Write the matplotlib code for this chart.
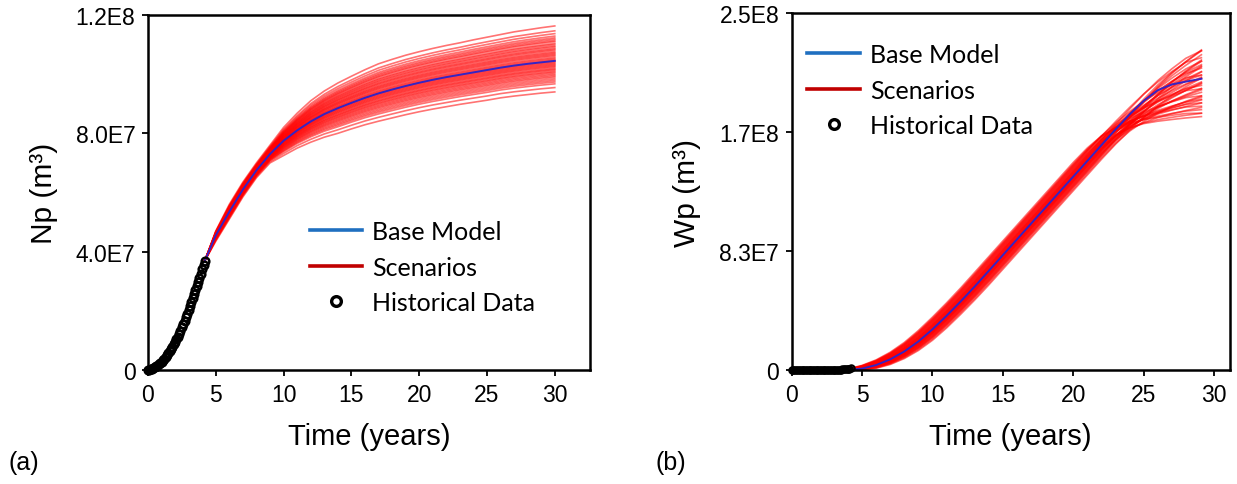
import matplotlib
matplotlib.use("Agg")
import matplotlib.pyplot as plt
import numpy as np
from matplotlib.lines import Line2D

plt.rcParams['font.family'] = ['Liberation Sans', 'DejaVu Sans']

# ---- historical data (both panels) ----
hist_t = [0.0, 0.1, 0.2, 0.3, 0.4, 0.5, 0.6, 0.7, 0.8, 0.9, 1.0, 1.1, 1.2, 1.3, 1.4,
          1.5, 1.6, 1.7, 1.8, 1.9, 2.0, 2.1, 2.2, 2.3, 2.4, 2.5, 2.6, 2.7, 2.8, 2.9,
          3.0, 3.1, 3.2, 3.3, 3.4, 3.5, 3.6, 3.7, 3.8, 3.9, 4.0, 4.1, 4.2]
hist_np = [0, 0.01, 0.02, 0.04, 0.06, 0.09, 0.12, 0.15, 0.19, 0.23, 0.28, 0.33, 0.38,
           0.44, 0.50, 0.57, 0.64, 0.71, 0.79, 0.87, 0.95, 1.04, 1.13, 1.23, 1.33, 1.44,
           1.55, 1.66, 1.78, 1.90, 2.03, 2.16, 2.29, 2.42, 2.56, 2.70, 2.84, 2.98, 3.12,
           3.26, 3.40, 3.54, 3.68]  # x1e7
hist_wp = [0, 0, 0, 0, 0, 0, 0, 0, 0, 0, 0, 0, 0, 0, 0, 0, 0.005, 0.005, 0.005, 0.005,
           0.005, 0.005, 0.005, 0.005, 0.005, 0.005, 0.01, 0.01, 0.01, 0.01, 0.01, 0.015,
           0.02, 0.025, 0.03, 0.035, 0.045, 0.055, 0.065, 0.075, 0.09, 0.10, 0.12]  # x1e7

# ---- (a) cumulative oil, Np (x1e7) ----
t_a = [4.2, 5, 6, 7, 8, 9, 10, 11, 12, 13, 14, 15, 16, 17, 18, 19, 20, 21, 22, 23, 24,
       25, 26, 27, 28, 29, 30]
base_np = [3.7, 4.55, 5.35, 6.1, 6.75, 7.3, 7.75, 8.1, 8.4, 8.65, 8.85, 9.03, 9.2, 9.35,
           9.48, 9.6, 9.71, 9.81, 9.9, 9.98, 10.06, 10.14, 10.22, 10.29, 10.35, 10.4, 10.45]
up_np = [0, 0.15, 0.25, 0.25, 0.25, 0.3, 0.45, 0.58, 0.7, 0.78, 0.85, 0.9, 0.95, 1.0,
         1.02, 1.04, 1.05, 1.06, 1.07, 1.08, 1.1, 1.11, 1.12, 1.14, 1.15, 1.17, 1.18]
low_np = [0, 0.2, 0.25, 0.25, 0.25, 0.3, 0.5, 0.6, 0.7, 0.78, 0.85, 0.88, 0.91, 0.94,
          0.96, 0.97, 0.98, 0.99, 1.0, 1.0, 1.01, 1.02, 1.02, 1.03, 1.04, 1.04, 1.05]
# where each scenario sits inside the band (+1 upper edge, -1 lower edge)
scen_np = [1.0, 0.86, 0.78, 0.71, 0.66, 0.62, 0.58, 0.55, 0.5, 0.47, 0.43, 0.4, 0.36,
           0.33, 0.3, 0.26, 0.23, 0.2, 0.17, 0.14, 0.1, 0.07, 0.04, 0.01, -0.02, -0.05,
           -0.08, -0.11, -0.14, -0.17, -0.2, -0.24, -0.27, -0.3, -0.34, -0.37, -0.41,
           -0.45, -0.49, -0.53, -0.58, -0.63, -0.68, -0.74, -0.86, -1.0]

# ---- (b) cumulative water, Wp (x1e7) ----
t_b = [4.2, 5, 6, 7, 8, 9, 10, 11, 12, 13, 14, 15, 16, 17, 18, 19, 20, 21, 22, 23, 24,
       25, 26, 27, 28, 29.1]
base_wp = [0.03, 0.1, 0.35, 0.75, 1.3, 2.0, 2.85, 3.8, 4.8, 5.85, 6.95, 8.05, 9.15,
           10.25, 11.35, 12.45, 13.55, 14.65, 15.75, 16.85, 17.9, 18.85, 19.6, 20.0,
           20.2, 20.4]
low_wp = [0.03, 0.1, 0.35, 0.75, 1.3, 2.0, 2.85, 3.8, 4.8, 5.85, 6.95, 8.05, 9.15,
          10.25, 11.35, 12.45, 13.55, 14.65, 15.65, 16.45, 16.95, 17.25, 17.42, 17.54,
          17.65, 17.75]
high_wp = [0.03, 0.1, 0.35, 0.75, 1.3, 2.0, 2.85, 3.8, 4.8, 5.85, 6.95, 8.05, 9.15,
           10.25, 11.35, 12.45, 13.55, 14.65, 15.75, 16.85, 17.95, 19.05, 20.1, 21.0,
           21.8, 22.6]
shift_wp = [-0.9, -0.8, -0.7, -0.65, -0.6, -0.5, -0.45, -0.4, -0.35, -0.3, -0.25, -0.2,
            -0.15, -0.1, -0.05, 0.0, 0.05, 0.1, 0.15, 0.2, 0.25, 0.3, 0.35, 0.4, 0.45,
            0.5, 0.55, 0.6, 0.7, 0.8, 0.9, -0.55, -0.15, 0.1, 0.3, 0.65, -0.75, 0.0,
            0.2, -0.3]
mix_wp = [0.05, 0.15, 0.6, 0.3, 0.85, 0.45, 0.1, 0.7, 0.95, 0.25, 0.55, 0.8, 0.35, 0.65,
          0.0, 0.5, 0.9, 0.2, 0.75, 0.4, 1.0, 0.6, 0.3, 0.85, 0.15, 0.7, 0.45, 0.9, 0.55,
          0.35, 0.65, 0.2, 0.75, 0.05, 0.5, 0.8, 0.4, 0.95, 0.25, 0.6]

np_ticks = [0, 4e7, 8e7, 1.2e8]
np_labels = ['0', '4.0E7', '8.0E7', '1.2E8']
wp_ticks = [0, 2.5e8 / 3, 2 * 2.5e8 / 3, 2.5e8]
wp_labels = ['0', '8.3E7', '1.7E8', '2.5E8']

RED = '#ff0000'
BLUE_LINE = '#3424c4'
legend_handles = [
    Line2D([], [], color='#1f6fc0', lw=2.6, label='Base Model'),
    Line2D([], [], color='#c00000', lw=2.6, label='Scenarios'),
    Line2D([], [], ls='none', marker='o', mfc='white', mec='black', ms=7, mew=2.4,
           label='Historical Data'),
]

fig = plt.figure(figsize=(12.37, 4.85), dpi=100)
ax1 = fig.add_axes([0.1196, 0.235, 0.3574, 0.732])
ax2 = fig.add_axes([0.640, 0.235, 0.354, 0.736])

# panel a
ta = np.array(t_a)
for f in scen_np:
    dev = np.array(up_np) if f > 0 else np.array(low_np)
    ax1.plot(ta, (np.array(base_np) + f * dev) * 1e7, color=RED, lw=1.2, alpha=0.55)
ax1.plot(ta, np.array(base_np) * 1e7, color=BLUE_LINE, lw=1.4)
ax1.plot(hist_t, np.array(hist_np) * 1e7, ls='none', marker='o', mfc='none',
         mec='black', ms=5.5, mew=1.8, clip_on=False, zorder=5)

# panel b
tb = np.array(t_b)
for s, m in zip(shift_wp, mix_wp):
    lo = np.interp(tb - s, tb, low_wp)
    hi = np.interp(tb - s, tb, high_wp)
    ax2.plot(tb, ((1 - m) * lo + m * hi) * 1e7, color=RED, lw=1.2, alpha=0.55)
ax2.plot(tb, np.array(base_wp) * 1e7, color=BLUE_LINE, lw=1.4)
ax2.plot(hist_t, np.array(hist_wp) * 1e7, ls='none', marker='o', mfc='none',
         mec='black', ms=4.5, mew=1.6, clip_on=False, zorder=5)

for ax, xmax, ymax, yt, yl, ylab, leg_xy in [
        (ax1, 32.6, 1.2e8, np_ticks, np_labels, 'Np (m³)', (0.366, 0.4225)),
        (ax2, 31.1, 2.5e8, wp_ticks, wp_labels, 'Wp (m³)', (0.036, 0.916))]:
    ax.set_xlim(0, xmax)
    ax.set_ylim(0, ymax)
    ax.set_xticks([0, 5, 10, 15, 20, 25, 30])
    ax.set_yticks(yt)
    ax.set_yticklabels(yl)
    ax.tick_params(direction='out', length=4, width=1.3, labelsize=16.5, pad=5)
    for sp in ax.spines.values():
        sp.set_linewidth(1.8)
    ax.set_xlabel('Time (years)', fontsize=21, labelpad=12)
    ax.set_ylabel(ylab, fontsize=21.5, labelpad=13)
    ax.legend(handles=legend_handles, loc='upper left', bbox_to_anchor=leg_xy,
              frameon=False, borderpad=0, borderaxespad=0, handlelength=2.1,
              handletextpad=0.4, labelspacing=0.5,
              prop={'family': 'Lato', 'size': 18})

fig.text(0.007, 0.03, '(a)', fontsize=18)
fig.text(0.530, 0.03, '(b)', fontsize=18)

fig.savefig('out.png', dpi=100)
